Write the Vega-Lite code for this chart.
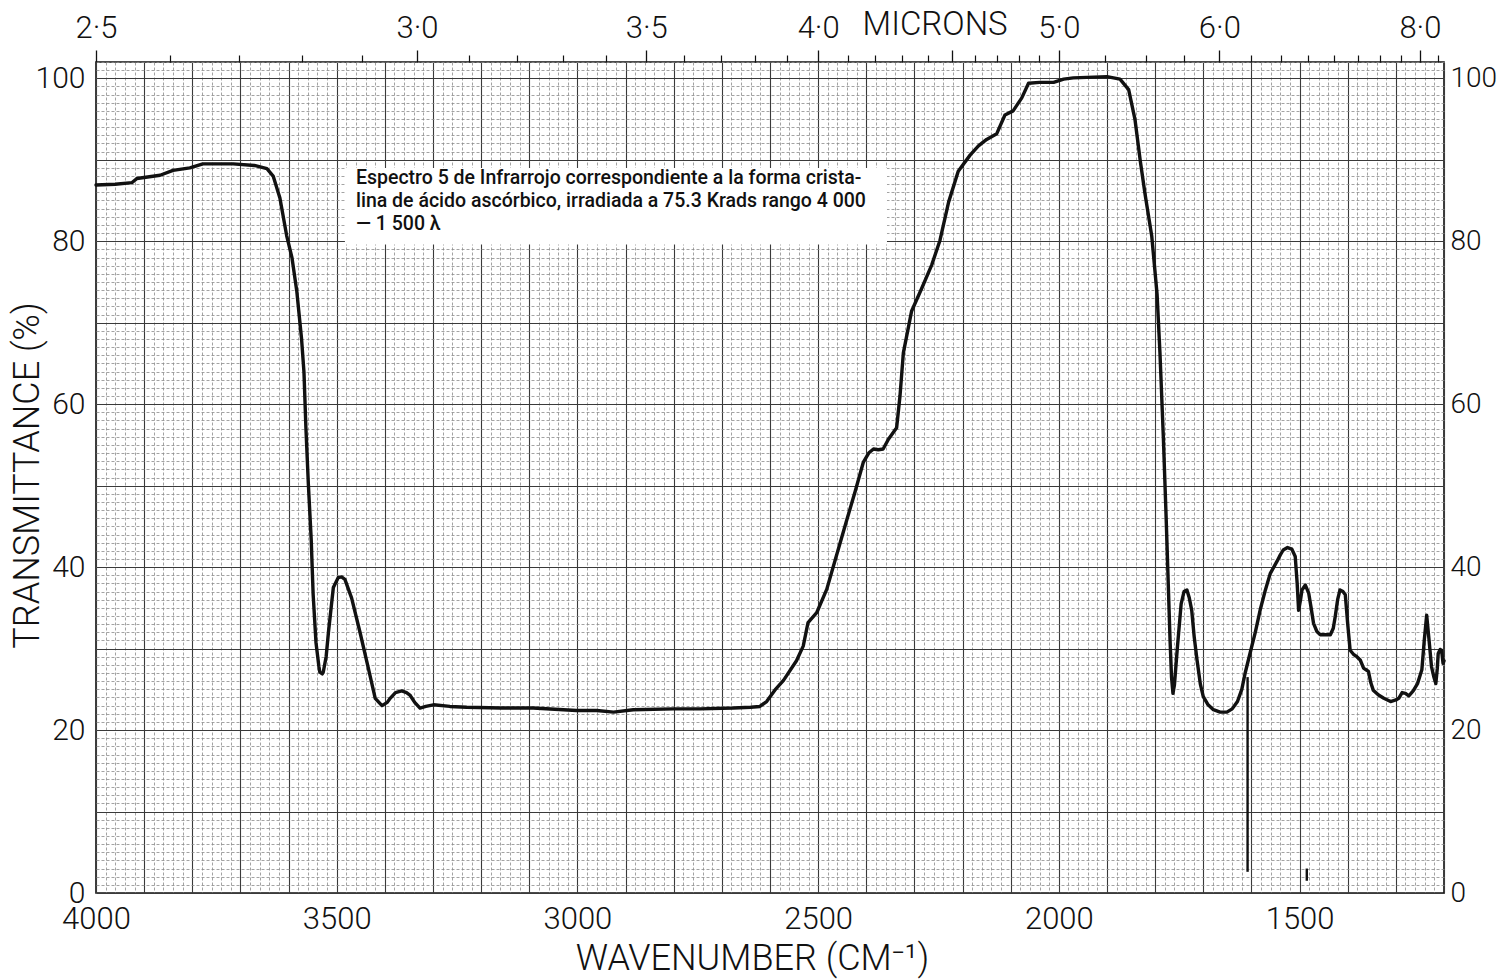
{
  "$schema": "https://vega.github.io/schema/vega-lite/v6.json",
  "width": 1348,
  "height": 831,
  "autosize": {"type": "none"},
  "padding": {"left": 96, "top": 62, "right": 56, "bottom": 86},
  "background": "white",
  "config": {
    "view": {"stroke": "#111", "strokeWidth": 1.6},
    "axis": {"labelFont": "Roboto", "labelFontWeight": 300, "titleFont": "Roboto", "titleFontWeight": 300, "labelColor": "#111", "titleColor": "#111"}
  },
  "datasets": {
    "spectrum": [
      {"wn": 4000, "T": 86.9}, {"wn": 3960, "T": 87.0}, {"wn": 3925, "T": 87.2}, {"wn": 3915, "T": 87.7},
      {"wn": 3867, "T": 88.1}, {"wn": 3840, "T": 88.7}, {"wn": 3805, "T": 89.0}, {"wn": 3778, "T": 89.5},
      {"wn": 3715, "T": 89.5}, {"wn": 3671, "T": 89.3}, {"wn": 3645, "T": 88.9}, {"wn": 3632, "T": 88.0},
      {"wn": 3618, "T": 85.3}, {"wn": 3604, "T": 80.7}, {"wn": 3593, "T": 78.0}, {"wn": 3583, "T": 73.9},
      {"wn": 3573, "T": 68.0}, {"wn": 3568, "T": 63.9}, {"wn": 3564, "T": 57.1}, {"wn": 3559, "T": 50.3},
      {"wn": 3553, "T": 43.4}, {"wn": 3549, "T": 36.7}, {"wn": 3543, "T": 30.7}, {"wn": 3537, "T": 27.8},
      {"wn": 3535, "T": 27.1}, {"wn": 3530, "T": 26.9}, {"wn": 3528, "T": 27.1}, {"wn": 3522, "T": 29.0},
      {"wn": 3517, "T": 32.1}, {"wn": 3507, "T": 37.5}, {"wn": 3497, "T": 38.7}, {"wn": 3490, "T": 38.8},
      {"wn": 3483, "T": 38.5}, {"wn": 3469, "T": 36.2}, {"wn": 3452, "T": 32.1}, {"wn": 3434, "T": 27.5},
      {"wn": 3420, "T": 23.9}, {"wn": 3406, "T": 23.0}, {"wn": 3395, "T": 23.4}, {"wn": 3389, "T": 23.9},
      {"wn": 3378, "T": 24.6}, {"wn": 3365, "T": 24.8}, {"wn": 3355, "T": 24.6}, {"wn": 3348, "T": 24.3},
      {"wn": 3338, "T": 23.4}, {"wn": 3327, "T": 22.7}, {"wn": 3315, "T": 22.9}, {"wn": 3299, "T": 23.1},
      {"wn": 3265, "T": 22.9}, {"wn": 3230, "T": 22.8}, {"wn": 3160, "T": 22.7}, {"wn": 3092, "T": 22.7},
      {"wn": 3002, "T": 22.4}, {"wn": 2960, "T": 22.4}, {"wn": 2925, "T": 22.2}, {"wn": 2884, "T": 22.5},
      {"wn": 2800, "T": 22.6}, {"wn": 2745, "T": 22.6}, {"wn": 2676, "T": 22.7}, {"wn": 2640, "T": 22.8},
      {"wn": 2621, "T": 22.9}, {"wn": 2607, "T": 23.5}, {"wn": 2590, "T": 24.9}, {"wn": 2572, "T": 26.1},
      {"wn": 2545, "T": 28.5}, {"wn": 2531, "T": 30.3}, {"wn": 2521, "T": 33.2}, {"wn": 2503, "T": 34.4},
      {"wn": 2482, "T": 37.3}, {"wn": 2461, "T": 41.6}, {"wn": 2441, "T": 45.7}, {"wn": 2423, "T": 49.3},
      {"wn": 2406, "T": 52.9}, {"wn": 2395, "T": 54.0}, {"wn": 2385, "T": 54.5}, {"wn": 2375, "T": 54.4},
      {"wn": 2365, "T": 54.5}, {"wn": 2354, "T": 55.7}, {"wn": 2337, "T": 57.1}, {"wn": 2330, "T": 61.0},
      {"wn": 2323, "T": 66.3}, {"wn": 2306, "T": 71.4}, {"wn": 2285, "T": 74.2}, {"wn": 2264, "T": 77.1},
      {"wn": 2247, "T": 80.1}, {"wn": 2229, "T": 84.8}, {"wn": 2209, "T": 88.6}, {"wn": 2184, "T": 90.6},
      {"wn": 2167, "T": 91.7}, {"wn": 2150, "T": 92.5}, {"wn": 2129, "T": 93.2}, {"wn": 2112, "T": 95.5},
      {"wn": 2095, "T": 96.0}, {"wn": 2077, "T": 97.6}, {"wn": 2063, "T": 99.4}, {"wn": 2040, "T": 99.5},
      {"wn": 2011, "T": 99.5}, {"wn": 1990, "T": 99.9}, {"wn": 1970, "T": 100.05}, {"wn": 1900, "T": 100.2},
      {"wn": 1873, "T": 99.9}, {"wn": 1855, "T": 98.6}, {"wn": 1842, "T": 95.0}, {"wn": 1831, "T": 89.9},
      {"wn": 1821, "T": 85.8}, {"wn": 1807, "T": 80.6}, {"wn": 1796, "T": 73.5}, {"wn": 1790, "T": 66.3},
      {"wn": 1783, "T": 56.0}, {"wn": 1777, "T": 45.8}, {"wn": 1769, "T": 31.0}, {"wn": 1766, "T": 26.5},
      {"wn": 1763, "T": 24.5}, {"wn": 1760, "T": 25.5}, {"wn": 1754, "T": 30.0}, {"wn": 1746, "T": 35.5},
      {"wn": 1740, "T": 37.0}, {"wn": 1734, "T": 37.2}, {"wn": 1729, "T": 36.2}, {"wn": 1724, "T": 34.7},
      {"wn": 1719, "T": 31.5}, {"wn": 1713, "T": 28.6}, {"wn": 1706, "T": 25.6}, {"wn": 1700, "T": 24.1},
      {"wn": 1690, "T": 23.1}, {"wn": 1679, "T": 22.5}, {"wn": 1665, "T": 22.2}, {"wn": 1651, "T": 22.2},
      {"wn": 1640, "T": 22.6}, {"wn": 1629, "T": 23.5}, {"wn": 1620, "T": 25.0}, {"wn": 1613, "T": 27.0},
      {"wn": 1603, "T": 29.4}, {"wn": 1592, "T": 32.0}, {"wn": 1582, "T": 34.7}, {"wn": 1571, "T": 37.2},
      {"wn": 1561, "T": 39.2}, {"wn": 1547, "T": 40.7}, {"wn": 1540, "T": 41.5}, {"wn": 1534, "T": 42.1},
      {"wn": 1525, "T": 42.4}, {"wn": 1516, "T": 42.2}, {"wn": 1509, "T": 41.3}, {"wn": 1505, "T": 38.0},
      {"wn": 1502, "T": 34.7}, {"wn": 1498, "T": 36.0}, {"wn": 1495, "T": 37.2}, {"wn": 1488, "T": 37.8},
      {"wn": 1481, "T": 36.8}, {"wn": 1476, "T": 35.0}, {"wn": 1471, "T": 33.1}, {"wn": 1464, "T": 32.1},
      {"wn": 1457, "T": 31.7}, {"wn": 1436, "T": 31.7}, {"wn": 1430, "T": 32.5}, {"wn": 1426, "T": 33.9},
      {"wn": 1421, "T": 36.0}, {"wn": 1416, "T": 37.2}, {"wn": 1410, "T": 37.0}, {"wn": 1405, "T": 36.6},
      {"wn": 1400, "T": 33.0}, {"wn": 1395, "T": 29.8}, {"wn": 1388, "T": 29.3}, {"wn": 1381, "T": 29.0},
      {"wn": 1374, "T": 28.6}, {"wn": 1367, "T": 27.6}, {"wn": 1362, "T": 27.4}, {"wn": 1357, "T": 27.2},
      {"wn": 1352, "T": 25.8}, {"wn": 1347, "T": 24.9}, {"wn": 1336, "T": 24.3}, {"wn": 1325, "T": 23.9},
      {"wn": 1311, "T": 23.5}, {"wn": 1300, "T": 23.7}, {"wn": 1294, "T": 23.9}, {"wn": 1287, "T": 24.6},
      {"wn": 1280, "T": 24.5}, {"wn": 1273, "T": 24.2}, {"wn": 1264, "T": 24.8}, {"wn": 1255, "T": 25.7},
      {"wn": 1246, "T": 27.4}, {"wn": 1241, "T": 31.0}, {"wn": 1236, "T": 34.1}, {"wn": 1231, "T": 31.0},
      {"wn": 1226, "T": 27.8}, {"wn": 1221, "T": 26.5}, {"wn": 1217, "T": 25.7}, {"wn": 1214, "T": 27.5},
      {"wn": 1212, "T": 29.4}, {"wn": 1208, "T": 29.9}, {"wn": 1205, "T": 29.8}, {"wn": 1202, "T": 28.2},
      {"wn": 1200, "T": 28.5}
    ],
    "pen": [
      {"wn": 1608, "lo": 2.6, "hi": 26.5},
      {"wn": 1485, "lo": 1.5, "hi": 3.0}
    ],
    "single": [{}]
  },
  "resolve": {"axis": {"x": "independent", "y": "independent"}},
  "layer": [
    {
      "data": {"name": "spectrum"},
      "mark": {"type": "line", "strokeOpacity": 0},
      "encoding": {
        "x": {"field": "wn", "type": "quantitative",
          "scale": {"domain": [1200, 4000], "reverse": true, "nice": false, "zero": false},
          "axis": {"orient": "bottom", "values": [1200,1220,1240,1260,1280,1300,1320,1340,1360,1380,1400,1420,1440,1460,1480,1500,1520,1540,1560,1580,1600,1620,1640,1660,1680,1700,1720,1740,1760,1780,1800,1820,1840,1860,1880,1900,1920,1940,1960,1980,2000,2020,2040,2060,2080,2100,2120,2140,2160,2180,2200,2220,2240,2260,2280,2300,2320,2340,2360,2380,2400,2420,2440,2460,2480,2500,2520,2540,2560,2580,2600,2620,2640,2660,2680,2700,2720,2740,2760,2780,2800,2820,2840,2860,2880,2900,2920,2940,2960,2980,3000,3020,3040,3060,3080,3100,3120,3140,3160,3180,3200,3220,3240,3260,3280,3300,3320,3340,3360,3380,3400,3420,3440,3460,3480,3500,3520,3540,3560,3580,3600,3620,3640,3660,3680,3700,3720,3740,3760,3780,3800,3820,3840,3860,3880,3900,3920,3940,3960,3980,4000],
            "grid": true, "gridColor": "#8c8c8c", "gridWidth": 0.8, "gridDash": [3, 2],
            "labels": false, "ticks": false, "domain": false, "title": null}},
        "y": {"field": "T", "type": "quantitative",
          "scale": {"domain": [0, 102], "nice": false, "zero": false},
          "axis": {"orient": "left", "values": [0,1,2,3,4,5,6,7,8,9,10,11,12,13,14,15,16,17,18,19,20,21,22,23,24,25,26,27,28,29,30,31,32,33,34,35,36,37,38,39,40,41,42,43,44,45,46,47,48,49,50,51,52,53,54,55,56,57,58,59,60,61,62,63,64,65,66,67,68,69,70,71,72,73,74,75,76,77,78,79,80,81,82,83,84,85,86,87,88,89,90,91,92,93,94,95,96,97,98,99,100,101,102],
            "grid": true, "gridColor": "#8c8c8c", "gridWidth": 0.8, "gridDash": [3, 2],
            "labels": false, "ticks": false, "domain": false, "title": null}}
      }
    },
    {
      "data": {"name": "spectrum"},
      "mark": {"type": "line", "strokeOpacity": 0},
      "encoding": {
        "x": {"field": "wn", "type": "quantitative",
          "axis": {"orient": "bottom", "values": [1200,1300,1400,1500,1600,1700,1800,1900,2000,2100,2200,2300,2400,2500,2600,2700,2800,2900,3000,3100,3200,3300,3400,3500,3600,3700,3800,3900,4000],
            "grid": true, "gridColor": "#3a3a3a", "gridWidth": 1.1,
            "labels": false, "ticks": false, "domain": false, "title": null}},
        "y": {"field": "T", "type": "quantitative",
          "axis": {"orient": "left", "values": [0,10,20,30,40,50,60,70,80,90,100],
            "grid": true, "gridColor": "#3a3a3a", "gridWidth": 1.1,
            "labels": false, "ticks": false, "domain": false, "title": null}}
      }
    },
    {
      "data": {"name": "single"},
      "mark": {"type": "rect", "fill": "white"},
      "encoding": {
        "x": {"datum": 3483, "type": "quantitative", "axis": null},
        "x2": {"datum": 2357},
        "y": {"datum": 89.0, "type": "quantitative", "axis": null},
        "y2": {"datum": 79.6}
      }
    },
    {
      "data": {"name": "single"},
      "mark": {"type": "text", "align": "left", "baseline": "top", "font": "Roboto", "fontWeight": 500, "fontSize": 19.5, "lineHeight": 23, "color": "#111"},
      "encoding": {
        "x": {"datum": 3460, "type": "quantitative", "axis": null},
        "y": {"datum": 88.9, "type": "quantitative", "axis": null},
        "text": {"value": ["Espectro 5 de Infrarrojo correspondiente a la forma crista-", "lina de ácido ascórbico, irradiada a 75.3 Krads rango 4 000", "— 1 500 λ"]}
      }
    },
    {
      "data": {"name": "spectrum"},
      "mark": {"type": "line", "stroke": "#111", "strokeWidth": 3.4, "strokeJoin": "round", "strokeCap": "round"},
      "encoding": {
        "x": {"field": "wn", "type": "quantitative",
          "axis": {"orient": "bottom", "values": [4000, 3500, 3000, 2500, 2000, 1500], "format": "d",
            "labelFontSize": 31, "labelPadding": 11, "labelFlush": false, "labelOverlap": false,
            "ticks": false, "domain": false, "grid": false,
            "title": "WAVENUMBER (CM⁻¹)", "titleFontSize": 36, "titleBaseline": "alphabetic", "titleAlign": "center", "titleX": 656, "titleY": 76}},
        "y": {"field": "T", "type": "quantitative",
          "axis": {"orient": "left", "values": [0, 20, 40, 60, 80, 100], "format": "d",
            "labelFontSize": 30, "labelPadding": 11, "labelFlush": false, "labelOverlap": false,
            "ticks": false, "domain": false, "grid": false,
            "title": "TRANSMITTANCE (%)", "titleFontSize": 36, "titleBaseline": "alphabetic", "titleAlign": "center", "titleAngle": -90, "titleX": -58, "titleY": 413}}
      }
    },
    {
      "data": {"name": "pen"},
      "mark": {"type": "rule", "stroke": "#111", "strokeWidth": 2.4},
      "encoding": {
        "x": {"field": "wn", "type": "quantitative", "axis": null},
        "y": {"field": "lo", "type": "quantitative", "axis": null},
        "y2": {"field": "hi"}
      }
    },
    {
      "data": {"name": "spectrum"},
      "mark": {"type": "line", "strokeOpacity": 0},
      "encoding": {
        "x": {"field": "wn", "type": "quantitative",
          "axis": {"orient": "top", "values": [4000, 3333.333, 2857.143, 2500, 2222.222, 2000, 1666.667, 1250],
            "labelExpr": "abs(10000/datum.value - 4.5) < 0.01 ? '' : replace(format(10000/datum.value, '.1f'), '.', '·')",
            "ticks": true, "tickSize": 12, "tickColor": "#111", "tickWidth": 1.3,
            "labelFontSize": 31, "labelPadding": 6, "labelFlush": false, "labelOverlap": false,
            "domain": false, "grid": false, "title": null}},
        "y": {"field": "T", "type": "quantitative",
          "axis": {"orient": "right", "values": [0, 20, 40, 60, 80, 100], "format": "d",
            "labelFontSize": 28, "labelPadding": 6, "labelFlush": false, "labelOverlap": false,
            "ticks": false, "domain": false, "grid": false, "title": null}}
      }
    },
    {
      "data": {"name": "spectrum"},
      "mark": {"type": "line", "strokeOpacity": 0},
      "encoding": {
        "x": {"field": "wn", "type": "quantitative",
          "axis": {"orient": "top", "values": [3846.15, 3703.70, 3571.43, 3448.28, 3225.81, 3125, 3030.30, 2941.18, 2777.78, 2702.70, 2631.58, 2564.10, 2439.02, 2380.95, 2325.58, 2272.73, 2173.91, 2127.66, 2083.33, 2040.82, 1904.76, 1818.18, 1739.13, 1600, 1538.46, 1481.48, 1428.57, 1379.31, 1333.33, 1290.32, 1212.12],
            "ticks": true, "tickSize": 7, "tickColor": "#111", "tickWidth": 1.2,
            "labels": false, "domain": false, "grid": false, "title": null}},
        "y": {"field": "T", "type": "quantitative", "axis": null}
      }
    },
    {
      "data": {"name": "single"},
      "mark": {"type": "text", "align": "center", "baseline": "alphabetic", "font": "Roboto", "fontWeight": 300, "fontSize": 33, "color": "#111"},
      "encoding": {
        "x": {"datum": 2257, "type": "quantitative", "axis": null},
        "y": {"datum": 105.3, "type": "quantitative", "axis": null},
        "text": {"value": "MICRONS"}
      }
    }
  ]
}
